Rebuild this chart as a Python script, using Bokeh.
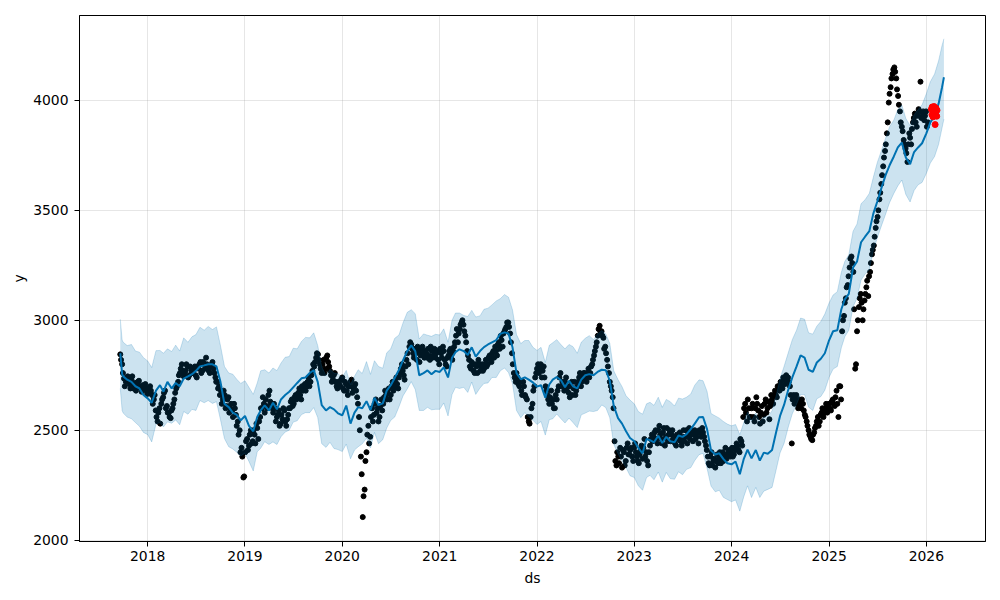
import pandas as pd
from bokeh.plotting import figure
from bokeh.models import Range1d, FixedTicker, DatetimeTickFormatter, SingleIntervalTicker
from bokeh.embed import file_html
from bokeh.resources import INLINE

# ---------------- observed history: weekly readings from obs_start ----------------
obs_start = "2017-09-20"
obs_y = [
    2845, 2800, 2735, 2720, 2745, 2710, 2730, 2690, 2715, 2700, 2725, 2690, 2705,
    2695, 2680, 2670, 2700, 2660, 2640, 2590, 2540, 2600, 2620, 2650, 2680, 2610,
    2580, 2555, 2600, 2640, 2690, 2720, 2760, 2800, 2745, 2770, 2790, 2750, 2775,
    2760, 2790, 2740, 2780, 2810, 2770, 2800, 2830, 2790, 2760, 2800, 2780, 2740,
    2720, 2700, 2680, 2640, 2660, 2610, 2650, 2600, 2590, 2620, 2570, 2540, 2500,
    2420, 2285, 2400, 2460, 2430, 2500, 2450, 2480, 2530, 2460, 2560, 2600, 2620,
    2640, 2600, 2680, 2620, 2580, 2600, 2560, 2590, 2530, 2550, 2590, 2520, 2570,
    2600, 2640, 2620, 2660, 2650, 2690, 2640, 2680, 2710, 2700, 2740, 2720, 2770,
    2790, 2830, 2845, 2800, 2760, 2820, 2780, 2840, 2790, 2750, 2730, 2760, 2700,
    2720, 2700, 2740, 2680, 2710, 2660, 2700, 2730, 2690, 2710, 2650, 2560, 2380,
    2105, 2230, 2400, 2520, 2470, 2600, 2570, 2640, 2600, 2560, 2640, 2620, 2680,
    2640, 2690, 2660, 2720, 2700, 2740, 2690, 2760, 2800, 2750, 2790, 2850, 2880,
    2890, 2850, 2870, 2820, 2860, 2840, 2880, 2830, 2850, 2870, 2820, 2860, 2840,
    2830, 2860, 2800, 2850, 2880, 2820, 2790, 2840, 2870, 2820, 2880, 2930, 2900,
    2960, 2990, 2980, 2930, 2860, 2820, 2780, 2800, 2760, 2790, 2820, 2770, 2800,
    2780, 2820, 2800, 2840, 2810, 2860, 2880, 2840, 2900, 2930, 2880, 2950, 2970,
    2990, 2940, 2850, 2760, 2720, 2740, 2700, 2680, 2720, 2660, 2640, 2540, 2560,
    2620, 2700, 2760, 2800, 2780, 2740, 2790, 2700, 2660, 2620, 2680, 2640, 2600,
    2640, 2700, 2760, 2720, 2680, 2740, 2700, 2650, 2720, 2690, 2660, 2700, 2740,
    2700, 2740, 2760, 2720, 2780, 2760, 2800, 2840, 2880, 2930, 2975, 2950, 2920,
    2880, 2820, 2760, 2700, 2650, 2450, 2340, 2380, 2420, 2330, 2400, 2360, 2440,
    2390, 2420, 2360, 2440, 2380, 2350, 2410, 2370, 2460, 2400, 2340, 2430, 2480,
    2470, 2500, 2440, 2520, 2460, 2490, 2430, 2510, 2480, 2450, 2500, 2470, 2430,
    2460, 2490, 2430, 2500, 2470, 2440, 2510, 2480, 2450, 2500, 2470, 2440, 2490,
    2510, 2470, 2430, 2380, 2340, 2400, 2360, 2330, 2390, 2370, 2350, 2400, 2380,
    2370, 2400, 2380, 2420, 2390, 2410, 2430, 2400, 2450, 2560, 2620, 2540, 2600,
    2560, 2620, 2540, 2650, 2590, 2530, 2610, 2570, 2640, 2600, 2550, 2660, 2620,
    2680, 2650, 2700, 2720, 2690, 2730, 2750, 2740, 2700, 2440, 2660, 2640, 2620,
    2640, 2600, 2620, 2570, 2540, 2500, 2470, 2455, 2490, 2520, 2560, 2540, 2580,
    2560, 2600, 2580, 2620, 2590, 2640, 2610, 2680, 2560, 2700, 2950, 3020, 3100,
    3160, 3240, 3290, 3220, 2780, 2950, 3060, 3120, 3000, 3090, 3150, 3110, 3220,
    3300, 3340, 3420, 3470, 3550, 3620, 3700, 3770, 3850, 3990, 4060, 4120, 4150,
    4100, 4020, 3950, 3880, 3820, 3780, 3720, 3850, 3800, 3900, 3940, 3880, 3960,
    4085, 3930, 3910, 3950, 3900,
]
# second weekly reading, three days after each of the above
obs_b_start = "2017-09-23"
obs_y_b = [
    2820, 2760, 2700, 2740, 2725, 2690, 2745, 2705, 2680, 2720, 2700, 2675, 2690,
    2710, 2665, 2690, 2680, 2620, 2660, 2560, 2580, 2530, 2640, 2670, 2600, 2580,
    2560, 2590, 2620, 2670, 2700, 2750, 2780, 2770, 2760, 2800, 2740, 2790, 2760,
    2780, 2750, 2790, 2800, 2760, 2810, 2780, 2800, 2770, 2790, 2810, 2760, 2720,
    2690, 2660, 2620, 2680, 2600, 2640, 2580, 2620, 2560, 2600, 2520, 2480, 2400,
    2380, 2290, 2450, 2410, 2480, 2440, 2500, 2440, 2510, 2540, 2600, 2650, 2580,
    2610, 2660, 2630, 2600, 2620, 2540, 2570, 2520, 2570, 2600, 2540, 2550, 2600,
    2630, 2610, 2650, 2640, 2670, 2660, 2700, 2690, 2680, 2720, 2700, 2750, 2800,
    2810, 2850, 2820, 2780, 2800, 2760, 2830, 2810, 2770, 2720, 2750, 2720, 2690,
    2710, 2730, 2690, 2720, 2680, 2700, 2720, 2670, 2700, 2680, 2620, 2500, 2300,
    2200, 2360, 2480, 2440, 2560, 2540, 2620, 2580, 2540, 2610, 2590, 2650, 2660,
    2670, 2640, 2700, 2680, 2720, 2710, 2740, 2780, 2770, 2730, 2820, 2800, 2900,
    2870, 2830, 2850, 2880, 2810, 2870, 2850, 2860, 2830, 2840, 2880, 2830, 2870,
    2850, 2820, 2870, 2830, 2860, 2800, 2830, 2860, 2840, 2860, 2900, 2960, 2940,
    2980, 3000, 2950, 2900, 2840, 2790, 2810, 2770, 2800, 2760, 2800, 2790, 2770,
    2800, 2790, 2830, 2820, 2850, 2830, 2860, 2890, 2870, 2910, 2940, 2960, 2990,
    2970, 2900, 2800, 2740, 2760, 2710, 2720, 2660, 2700, 2650, 2560, 2530, 2600,
    2680, 2740, 2780, 2760, 2800, 2770, 2740, 2680, 2640, 2650, 2620, 2600, 2660,
    2680, 2740, 2700, 2700, 2720, 2680, 2670, 2700, 2660, 2720, 2680, 2720, 2760,
    2720, 2760, 2740, 2760, 2740, 2790, 2820, 2860, 2900, 2960, 2950, 2930, 2870,
    2850, 2790, 2720, 2680, 2600, 2360, 2400, 2350, 2380, 2410, 2340, 2420, 2390,
    2410, 2380, 2420, 2400, 2360, 2390, 2430, 2420, 2380, 2360, 2400, 2460, 2450,
    2490, 2460, 2500, 2480, 2440, 2510, 2470, 2450, 2500, 2480, 2460, 2440, 2480,
    2480, 2450, 2470, 2450, 2500, 2480, 2460, 2500, 2480, 2460, 2490, 2500, 2470,
    2490, 2450, 2410, 2350, 2380, 2340, 2370, 2360, 2350, 2400, 2380, 2360, 2420,
    2390, 2410, 2400, 2380, 2420, 2440, 2410, 2460, 2430, 2600, 2580, 2640, 2560,
    2600, 2560, 2600, 2620, 2560, 2580, 2540, 2620, 2580, 2630, 2610, 2640, 2660,
    2660, 2700, 2680, 2700, 2740, 2710, 2730, 2720, 2660, 2640, 2620, 2660, 2600,
    2620, 2640, 2590, 2560, 2520, 2480, 2460, 2480, 2510, 2540, 2520, 2570, 2600,
    2580, 2620, 2600, 2600, 2630, 2620, 2650, 2620, 2700, 2640, 3000, 3080, 3150,
    3200, 3280, 3260, 3050, 2800, 3000, 3100, 3080, 3050, 3120, 3180, 3200, 3260,
    3320, 3380, 3450, 3500, 3580, 3660, 3740, 3800, 3900, 4030, 4100, 4140, 4130,
    4050, 3980, 3900, 3860, 3800, 3760, 3800, 3830, 3870, 3920, 3900, 3930, 3950,
    3920, 3950, 3930, 3880,
]

# ---------------- held-out test points (red) ----------------
test_dates = ["2026-01-20", "2026-01-22", "2026-01-23", "2026-01-26", "2026-01-28", "2026-01-30",
              "2026-02-02", "2026-02-03", "2026-02-05", "2026-02-06", "2026-02-09", "2026-02-10"]
test_y = [3960, 3935, 3970, 3925, 3950, 3972, 3930, 3890, 3945, 3965, 3928, 3955]

# ---------------- forecast (semi-monthly readings) ----------------
fc_head = ["2017-09-20", "2017-09-27", "2017-10-01", "2017-10-16",
           "2017-11-01", "2017-11-16", "2017-12-01", "2017-12-16"]
fc_mid = [f"{yr}-{mo:02d}-{dd:02d}" for yr in range(2018, 2026) for mo in range(1, 13) for dd in (1, 16)]
fc_tail = ["2026-01-01", "2026-01-16", "2026-02-01", "2026-02-16", "2026-03-01", "2026-03-08"]
fc_dates = fc_head + fc_mid + fc_tail

yhat = [
    2850, 2755, 2745, 2730, 2720, 2700, 2690, 2660,
    2645, 2625, 2680, 2705, 2675, 2720, 2690, 2715, 2700, 2735, 2745, 2755,
    2770, 2790, 2795, 2800, 2800, 2790, 2720, 2620, 2605, 2580, 2570, 2545,
    2565, 2520, 2495, 2560, 2590, 2613, 2590, 2625, 2595, 2640, 2660, 2675,
    2695, 2715, 2736, 2740, 2760, 2773, 2720, 2614, 2590, 2605, 2595, 2577,
    2568, 2612, 2530, 2580, 2605, 2600, 2632, 2592, 2648, 2615, 2622, 2680,
    2705, 2738, 2775, 2818, 2860, 2886, 2860, 2750, 2760, 2772, 2755, 2770,
    2765, 2786, 2740, 2830, 2855, 2868, 2860, 2842, 2877, 2835, 2860, 2878,
    2890, 2900, 2910, 2938, 2945, 2940, 2877, 2760, 2732, 2740, 2730, 2718,
    2698, 2705, 2648, 2708, 2730, 2742, 2727, 2695, 2725, 2700, 2690, 2730,
    2750, 2755, 2750, 2765, 2775, 2773, 2725, 2610, 2555, 2530, 2495, 2465,
    2450, 2420, 2395, 2460, 2455, 2445, 2475, 2442, 2470, 2450, 2445, 2476,
    2470, 2482, 2505, 2530, 2559, 2560, 2505, 2408, 2390, 2395, 2370, 2350,
    2345, 2358, 2300, 2370, 2412, 2372, 2410, 2362, 2398, 2393, 2410, 2490,
    2565, 2615, 2685, 2740, 2790, 2840, 2830, 2775, 2765, 2808, 2825, 2850,
    2909, 2950, 2955, 3050, 3095, 3120, 3240, 3268, 3355, 3380, 3405, 3485,
    3540, 3600, 3660, 3705, 3745, 3786, 3808, 3740, 3710, 3765, 3786, 3805,
    3850, 3900, 3930, 3985, 4060, 4105,
]
yhat_upper = [
    3005, 2910, 2900, 2885, 2890, 2860, 2855, 2830,
    2815, 2785, 2862, 2863, 2850, 2870, 2858, 2887, 2860, 2920, 2900, 2925,
    2935, 2968, 2955, 2972, 2958, 2970, 2885, 2790, 2760, 2755, 2732, 2713,
    2725, 2695, 2663, 2715, 2770, 2775, 2760, 2783, 2771, 2805, 2832, 2835,
    2873, 2870, 2904, 2922, 2920, 2943, 2885, 2789, 2748, 2777, 2760, 2757,
    2740, 2772, 2708, 2745, 2775, 2758, 2812, 2754, 2816, 2790, 2782, 2852,
    2870, 2918, 2933, 2988, 3036, 3048, 3030, 2915, 2938, 2932, 2927, 2936,
    2933, 2961, 2900, 3000, 3033, 3033, 3022, 3017, 3045, 3015, 3020, 3050,
    3055, 3070, 3088, 3098, 3117, 3105, 3047, 2935, 2894, 2908, 2908, 2878,
    2863, 2877, 2808, 2886, 2898, 2912, 2889, 2870, 2890, 2880, 2850, 2900,
    2918, 2930, 2912, 2937, 2953, 2938, 2895, 2770, 2730, 2698, 2657, 2637,
    2620, 2585, 2573, 2620, 2627, 2613, 2650, 2604, 2640, 2630, 2610, 2646,
    2642, 2650, 2665, 2705, 2729, 2725, 2677, 2576, 2565, 2555, 2540, 2528,
    2520, 2526, 2480, 2535, 2582, 2544, 2578, 2537, 2560, 2563, 2588, 2655,
    2735, 2790, 2853, 2912, 2955, 3010, 3005, 2943, 2937, 2973, 2995, 3028,
    3079, 3115, 3130, 3218, 3267, 3298, 3405, 3438, 3530, 3548, 3577, 3650,
    3718, 3770, 3828, 3880, 3910, 3958, 3978, 3918, 3885, 3935, 3958, 3980,
    4030, 4085, 4120, 4180, 4250, 4280,
]
yhat_lower = [
    2690, 2590, 2578, 2560, 2552, 2535, 2518, 2490,
    2480, 2447, 2528, 2535, 2515, 2538, 2532, 2547, 2525, 2585, 2573, 2595,
    2590, 2635, 2625, 2635, 2622, 2630, 2548, 2462, 2425, 2415, 2400, 2383,
    2395, 2358, 2315, 2402, 2418, 2448, 2435, 2447, 2435, 2470, 2492, 2500,
    2537, 2543, 2571, 2580, 2580, 2603, 2558, 2439, 2422, 2445, 2417, 2412,
    2403, 2437, 2370, 2410, 2425, 2438, 2464, 2420, 2490, 2439, 2457, 2510,
    2545, 2560, 2607, 2656, 2688, 2721, 2685, 2590, 2590, 2604, 2593, 2595,
    2595, 2624, 2565, 2662, 2695, 2690, 2695, 2672, 2719, 2663, 2692, 2713,
    2715, 2740, 2740, 2770, 2783, 2762, 2712, 2590, 2557, 2580, 2562, 2546,
    2526, 2540, 2478, 2548, 2552, 2574, 2552, 2533, 2555, 2535, 2512, 2570,
    2578, 2587, 2585, 2590, 2615, 2603, 2557, 2435, 2393, 2360, 2330, 2293,
    2285, 2248, 2227, 2285, 2295, 2275, 2310, 2264, 2308, 2280, 2277, 2311,
    2298, 2322, 2330, 2362, 2389, 2395, 2327, 2246, 2220, 2227, 2195, 2185,
    2175, 2183, 2132, 2198, 2247, 2194, 2240, 2194, 2223, 2231, 2240, 2318,
    2397, 2440, 2515, 2575, 2618, 2662, 2662, 2605, 2590, 2643, 2653, 2682,
    2741, 2778, 2790, 2875, 2925, 2955, 3062, 3100, 3183, 3210, 3230, 3317,
    3375, 3428, 3482, 3535, 3577, 3611, 3638, 3572, 3538, 3590, 3616, 3627,
    3668, 3715, 3745, 3800, 3875, 3915,
]

year_ticks = [2018, 2019, 2020, 2021, 2022, 2023, 2024, 2025, 2026]

assert len(fc_dates) == len(yhat) == len(yhat_upper) == len(yhat_lower), (
    len(fc_dates), len(yhat), len(yhat_upper), len(yhat_lower))

obs_dt = pd.date_range(obs_start, periods=len(obs_y), freq="7D")
obs_b_dt = pd.date_range(obs_b_start, periods=len(obs_y_b), freq="7D")
fc_dt = pd.to_datetime(fc_dates)
test_dt = pd.to_datetime(test_dates)

FONT = "DejaVu Sans"
BLUE = "#0072B2"

p = figure(width=1000, height=600, x_axis_type="datetime",
           output_backend="svg", toolbar_location=None,
           x_range=Range1d(pd.Timestamp("2017-04-20"), pd.Timestamp("2026-08-11")),
           y_range=Range1d(1994, 4386),
           min_border_left=79, min_border_right=15, min_border_top=15, min_border_bottom=59)
p.frame_width = 906
p.frame_height = 526

p.scatter(obs_dt, obs_y, size=5, color="black")
p.scatter(obs_b_dt, obs_y_b, size=5, color="black")
p.line(fc_dt, yhat, line_color=BLUE, line_width=2)
p.varea(x=fc_dt, y1=yhat_lower, y2=yhat_upper, fill_color=BLUE, fill_alpha=0.2)
p.line(fc_dt, yhat_upper, line_color=BLUE, line_alpha=0.2, line_width=1)
p.line(fc_dt, yhat_lower, line_color=BLUE, line_alpha=0.2, line_width=1)
p.scatter(test_dt, test_y, size=6, color="red")

p.xaxis.ticker = FixedTicker(ticks=[pd.Timestamp(f"{y}-01-01").value / 1e6 for y in year_ticks])
p.xaxis.formatter = DatetimeTickFormatter(years="%Y", months="%Y", days="%Y", hours="%Y")
p.yaxis.ticker = SingleIntervalTicker(interval=500, num_minor_ticks=0)

p.xaxis.axis_label = "ds"
p.yaxis.axis_label = "y"
for ax in (p.xaxis, p.yaxis):
    ax.axis_label_text_font = FONT
    ax.axis_label_text_font_size = "13.9px"
    ax.axis_label_text_font_style = "normal"
    ax.axis_label_text_color = "black"
    ax.major_label_text_font = FONT
    ax.major_label_text_font_size = "13.9px"
    ax.major_label_text_color = "black"
    ax.axis_line_color = "black"
    ax.major_tick_line_color = "black"
    ax.major_tick_out = 5
    ax.major_tick_in = 0
    ax.minor_tick_line_color = None
p.xaxis.major_label_standoff = 4
p.yaxis.major_label_standoff = 6
p.xaxis.axis_label_standoff = 6
p.yaxis.axis_label_standoff = 3

p.xgrid.grid_line_color = "gray"
p.ygrid.grid_line_color = "gray"
p.xgrid.grid_line_alpha = 0.2
p.ygrid.grid_line_alpha = 0.2
p.outline_line_color = "black"
p.outline_line_alpha = 1
p.outline_line_width = 1
p.background_fill_color = "white"
p.border_fill_color = "white"

open("out.html", "w").write(file_html(p, INLINE))
